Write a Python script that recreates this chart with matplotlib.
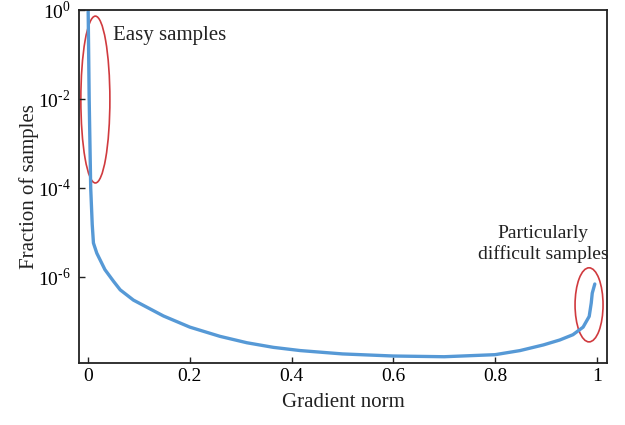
import numpy as np
import matplotlib.pyplot as plt
from matplotlib.patches import Ellipse

plt.rcParams['font.family'] = 'Liberation Serif'
plt.rcParams['mathtext.fontset'] = 'custom'
plt.rcParams['mathtext.rm'] = 'Liberation Serif'

# gradient norm vs fraction of samples
grad_norm = [0.000, 0.002, 0.005, 0.008, 0.0104, 0.017, 0.033, 0.050, 0.063,
             0.089, 0.148, 0.200, 0.259, 0.312, 0.364, 0.417, 0.50, 0.60,
             0.70, 0.80, 0.849, 0.895, 0.927, 0.953, 0.973, 0.985, 0.989,
             0.991, 0.996]
fraction = [1.0, 1e-2, 1e-4, 1.5e-5, 5.75e-6, 3.4e-6, 1.45e-6, 7.9e-7, 5.1e-7,
            3.0e-7, 1.32e-7, 7.4e-8, 4.6e-8, 3.3e-8, 2.6e-8, 2.2e-8, 1.85e-8,
            1.66e-8, 1.6e-8, 1.78e-8, 2.2e-8, 2.95e-8, 3.8e-8, 5.0e-8,
            7.4e-8, 1.29e-7, 2.57e-7, 4.3e-7, 6.9e-7]

xticks = [0, 0.2, 0.4, 0.6, 0.8, 1]
xticklabels = ['0', '0.2', '0.4', '0.6', '0.8', '1']
yticks = [1e0, 1e-2, 1e-4, 1e-6]
yticklabels = [r'10$^{0}$', r'10$^{\text{-}2}$', r'10$^{\text{-}4}$',
               r'10$^{\text{-}6}$']

fig = plt.figure(figsize=(6.25, 4.25), dpi=100)
ax = fig.add_axes([0.1264, 0.1466, 0.8448, 0.83])

ax.plot(grad_norm, fraction, color='#5699d6', lw=2.4, solid_capstyle='round',
        solid_joinstyle='round')
ax.set_yscale('log')
ax.set_xlim(-0.018, 1.02)
ax.set_ylim(10 ** -7.93, 1)

ax.set_xticks(xticks)
ax.set_xticklabels(xticklabels)
ax.set_yticks(yticks)
ax.set_yticklabels(yticklabels)
ax.yaxis.set_minor_locator(plt.NullLocator())
ax.tick_params(direction='in', length=4, width=1, labelsize=14, color='#222222')
ax.tick_params(axis='y', pad=6)
for s in ax.spines.values():
    s.set_linewidth(1.3)
    s.set_color('#222222')

ax.set_xlabel('Gradient norm', fontsize=15, color='#222222', labelpad=6)
ax.set_ylabel('Fraction of samples', fontsize=15, color='#222222', labelpad=-1)

# red rings around the two regions
ax.add_patch(Ellipse((0.031, 0.746), 0.055, 0.473, transform=ax.transAxes,
                     fill=False, ec='#d03a3e', lw=1.2))
ax.add_patch(Ellipse((0.966, 0.164), 0.053, 0.21, transform=ax.transAxes,
                     fill=False, ec='#d03a3e', lw=1.2))

ax.text(0.065, 0.928, 'Easy samples', transform=ax.transAxes, fontsize=15,
        va='center', ha='left', color='#222222')
ax.text(0.894, 10 ** -5.26, 'Particularly\ndifficult samples', fontsize=14,
        ha='center', va='center', color='#222222', linespacing=1.2)

fig.savefig('out.png', dpi=100)
